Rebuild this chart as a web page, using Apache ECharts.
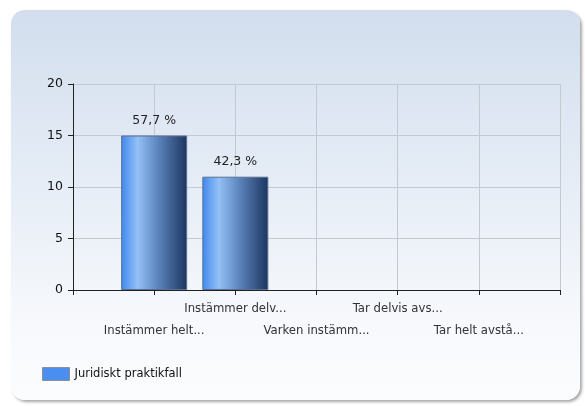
<!DOCTYPE html>
<html>
<head>
<meta charset="utf-8">
<script src="https://cdn.jsdelivr.net/npm/echarts@6/dist/echarts.min.js"></script>
<style>
  html, body { margin: 0; padding: 0; background: #fff; }
  .panel {
    position: absolute; left: 11px; top: 10px; width: 569px; height: 390px;
    border-radius: 14px;
    background: linear-gradient(to bottom, #d2deee 0%, #e6edf6 45%, #f7f9fc 80%, #fbfcfe 100%);
    box-shadow: 2px 2px 3px rgba(0,0,0,0.35);
  }
  #chart { position: absolute; left: 0; top: 0; width: 585px; height: 406px; }
</style>
</head>
<body>
<div class="panel"></div>
<div id="chart"></div>
<script>
// kategorier (tomma ändar så att staplarna hamnar på tickarna)
var categories = ['', 'Instämmer helt...', 'Instämmer delv...', 'Varken instämm...', 'Tar delvis avs...', 'Tar helt avstå...', ''];
var values = [null, 15, 11, 0, 0, 0, null];
var percentLabels = ['', '57,7 %', '42,3 %', '', '', '', ''];
var seriesName = 'Juridiskt praktikfall';
var yTicks = { min: 0, max: 20, interval: 5 };

var chart = echarts.init(document.getElementById('chart'));

var barData = values.map(function (v) {
  return { value: v, itemStyle: { borderWidth: v ? 1 : 0 } };
});

chart.setOption({
  backgroundColor: 'transparent',
  animation: false,
  textStyle: { fontFamily: 'DejaVu Sans' },
  grid: { left: 73, top: 84, right: 25, bottom: 116 },
  legend: {
    left: 42, top: 367, padding: 0,
    itemWidth: 27, itemHeight: 13, itemGap: 4,
    icon: 'rect',
    textStyle: { fontSize: 11.5, color: '#111' },
    data: [{ name: seriesName, itemStyle: { color: '#4a8ef0', borderColor: '#8a8f99', borderWidth: 1 } }]
  },
  xAxis: {
    type: 'category',
    data: categories,
    boundaryGap: false,
    axisLine: { lineStyle: { color: '#222', width: 1 } },
    axisTick: { show: true, length: 5, lineStyle: { color: '#222' }, interval: 0 },
    splitLine: { show: true, lineStyle: { color: '#c4c8cf' } },
    axisLabel: {
      interval: 0, fontSize: 11.7, color: '#333', margin: 8, lineHeight: 22,
      formatter: function (v, i) {
        if (!v) return '';
        return i % 2 === 1 ? '\n' + v : v;
      }
    }
  },
  yAxis: {
    type: 'value',
    min: yTicks.min, max: yTicks.max, interval: yTicks.interval,
    axisLine: { show: true, lineStyle: { color: '#222', width: 1 } },
    axisTick: { show: true, length: 5, lineStyle: { color: '#222' } },
    splitLine: { show: true, lineStyle: { color: '#c4c8cf' } },
    axisLabel: { fontSize: 12.5, color: '#111', margin: 10 }
  },
  series: [{
    name: seriesName,
    type: 'bar',
    barWidth: 66,
    data: barData,
    itemStyle: {
      borderColor: '#5a7090',
      color: new echarts.graphic.LinearGradient(0, 0, 1, 0, [
        { offset: 0, color: '#3f88ee' },
        { offset: 0.25, color: '#94c0f6' },
        { offset: 0.55, color: '#5d86bf' },
        { offset: 1, color: '#1c355f' }
      ])
    },
    label: {
      show: true, position: 'top', distance: 8,
      fontSize: 12.5, color: '#222',
      formatter: function (p) { return percentLabels[p.dataIndex]; }
    }
  }]
});
</script>
</body>
</html>
